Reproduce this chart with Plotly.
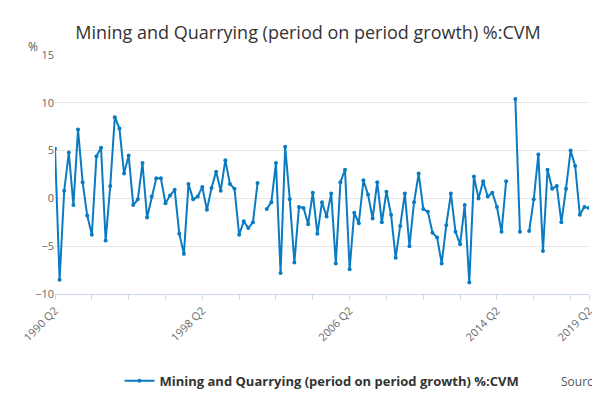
import plotly.graph_objects as go

start_year = 1990
start_q = 2
values = [5.2, -8.5, 0.8, 4.8, -0.7, 7.2, 1.7, -1.8, -3.8, 4.4, 5.3, -4.4, 1.3, 8.5, 7.3,
          2.6, 4.5, -0.7, -0.1, 3.7, -2.0, 0.2, 2.1, 2.1, -0.5, 0.3, 0.9, -3.7, -5.8, 1.5,
          -0.1, 0.2, 1.2, -1.2, 1.1, 2.8, 0.8, 4.0, 1.5, 1.0, -3.8, -2.4, -3.1, -2.5, 1.6,
          None, -1.1, -0.4, 3.7, -7.8, 5.4, -0.1, -6.7, -0.9, -1.0, -2.7, 0.6, -3.7, -0.4,
          -1.9, 0.5, -6.8, 1.7, 3.0, -7.4, -1.5, -2.6, 1.9, 0.4, -2.1, 1.7, -2.5, 0.7, -1.7,
          -6.2, -2.9, 0.5, -5.0, -0.4, 2.6, -1.1, -1.4, -3.6, -4.1, -6.8, -2.8, 0.5, -3.5,
          -4.8, -0.7, -8.8, 2.3, 0.0, 1.8, 0.2, 0.6, -0.9, -3.5, 1.8, None, 10.4, -3.5, None,
          -3.4, -0.1, 4.6, -5.5, 3.0, 1.0, 1.3, -2.5, 1.0, 5.0, 3.4, -1.7, -0.9, -1.0]

labels = []
y, q = start_year, start_q
for _ in values:
    labels.append(f"{y} Q{q}")
    q += 1
    if q > 4:
        q, y = 1, y + 1

shown = ["1990 Q2", "1998 Q2", "2006 Q2", "2014 Q2", "2019 Q2"]
tickvals = labels[::8] + [labels[-1]]
ticktext = [l if l in shown else "" for l in tickvals]

fig = go.Figure(go.Scatter(
    x=labels, y=values, mode="lines+markers",
    name="Mining and Quarrying (period on period growth) %:CVM",
    line=dict(color="#0a7bc2", width=2), marker=dict(size=4, color="#0a7bc2"),
    connectgaps=False, showlegend=True))

fig.update_layout(
    width=600, height=400, plot_bgcolor="white", paper_bgcolor="white",
    font=dict(family="Open Sans", color="#333"),
    title=dict(text="Mining and Quarrying (period on period growth) %:CVM",
               x=0.5, xanchor="center", y=0.955, font=dict(size=18, color="#333")),
    margin=dict(l=45, r=19, t=47, b=103),
    legend=dict(orientation="h", x=0.5, xanchor="center", y=-0.3, yanchor="top",
                font=dict(size=13, color="#333", weight="bold")),
    annotations=[dict(text="%", xref="paper", yref="paper", x=-0.055, y=1.08,
                      showarrow=False, font=dict(size=12, color="#555")),
                 dict(text="Source:", xref="paper", yref="paper", x=1.03, y=-0.41,
                      xanchor="right", yanchor="bottom", showarrow=False,
                      font=dict(size=12, color="#555"))],
)
fig.update_xaxes(type="category", range=[0, len(labels) - 1], tickvals=tickvals,
                 ticktext=ticktext, tickangle=-45,
                 ticks="outside", ticklen=5, tickcolor="#ccd6eb", showgrid=False,
                 showline=True, linecolor="#ccd6eb", tickfont=dict(size=11, color="#666"))
fig.update_yaxes(range=[-10, 15], dtick=5, gridcolor="#e6e6e6", zeroline=False,
                 tickfont=dict(size=11, color="#666"))

fig.write_html("out.html")
